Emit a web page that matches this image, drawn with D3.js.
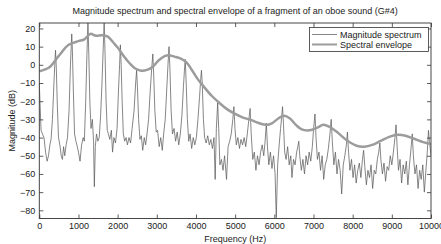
<!DOCTYPE html>
<html><head><meta charset="utf-8">
<script src="https://cdn.jsdelivr.net/npm/d3@7"></script>
<style>body{margin:0;background:#fff}svg{display:block;font-family:"Liberation Sans",Arial,sans-serif}</style>
</head><body><svg id="c" width="441" height="244"></svg>
<script>
const title = "Magnitude spectrum and spectral envelope of a fragment of an oboe sound (G#4)";
const xLabel = "Frequency (Hz)";
const yLabel = "Magnitude (dB)";
const seriesNames = ["Magnitude spectrum", "Spectral envelope"];
const xTicks = [0,1000,2000,3000,4000,5000,6000,7000,8000,9000,10000];
const yTicks = [-80,-70,-60,-50,-40,-30,-20,-10,0,10,20];

const specFreq = [0,20,45,80,120,160,200,235,270,300,335,370,395,414,435,460,490,525,560,590,620,650,685,720,760,795,815,828,845,870,900,935,970,1000,1040,1080,1120,1150,1185,1215,1242,1265,1290,1320,1355,1385,1405,1430,1460,1495,1530,1565,1600,1630,1656,1680,1705,1735,1765,1800,1840,1870,1905,1945,1985,2020,2050,2070,2090,2115,2145,2180,2215,2250,2290,2330,2370,2420,2460,2484,2505,2535,2570,2605,2640,2680,2715,2750,2790,2830,2870,2898,2920,2950,2985,3020,3060,3100,3140,3175,3215,3250,3285,3312,3335,3365,3400,3440,3480,3520,3560,3600,3640,3680,3705,3726,3750,3780,3815,3850,3890,3930,3970,4010,4050,4090,4120,4140,4160,4190,4220,4260,4300,4340,4380,4420,4460,4490,4520,4554,4580,4610,4650,4690,4730,4780,4820,4860,4900,4940,4968,4995,5030,5070,5110,5150,5190,5230,5270,5310,5350,5382,5410,5450,5490,5530,5570,5610,5650,5690,5730,5765,5796,5825,5860,5900,5940,5980,6020,6050,6085,6120,6160,6190,6210,6235,6265,6300,6340,6380,6420,6450,6490,6530,6570,6600,6624,6650,6690,6730,6770,6810,6850,6890,6930,6970,7000,7038,7065,7100,7140,7180,7220,7260,7300,7340,7380,7420,7452,7480,7520,7560,7600,7640,7680,7720,7760,7800,7840,7866,7895,7930,7970,8010,8050,8090,8130,8170,8210,8250,8280,8310,8350,8390,8430,8470,8510,8550,8590,8630,8665,8694,8720,8760,8800,8840,8880,8920,8960,9000,9040,9080,9108,9135,9170,9210,9250,9290,9330,9370,9410,9450,9490,9522,9550,9590,9630,9670,9710,9750,9790,9830,9870,9905,9936,9960,10000];
const specMag = [-10,-22,-36,-38,-40,-48,-53,-50,-44,-41,-30,-12,0,8,-2,-22,-40,-44,-50,-52,-45,-50,-44,-40,-25,0,10,17,8,-15,-38,-42,-45,-48,-53,-44,-40,-42,-20,5,23.5,5,-20,-35,-30,-42,-67,-45,-38,-42,-40,-28,-10,8,24,5,-20,-36,-38,-41,-36,-48,-40,-43,-35,-15,0,11,0,-20,-38,-42,-40,-44,-40,-43,-35,-25,-10,-3,-12,-30,-41,-39,-47,-40,-44,-38,-30,-15,-2,6,-5,-25,-37,-36,-45,-40,-47,-38,-30,-15,0,10,-2,-25,-38,-35,-42,-37,-44,-38,-28,-12,-3,3,-10,-30,-42,-38,-46,-40,-44,-40,-30,-18,-8,-3,-10,-30,-40,-43,-39,-44,-41,-46,-40,-63,-35,-21,-35,-55,-52,-58,-50,-63,-45,-42,-38,-30,-23,-35,-44,-40,-46,-41,-44,-40,-45,-38,-30,-24,-38,-52,-48,-58,-50,-55,-48,-44,-50,-42,-32,-45,-55,-48,-57,-50,-60,-84,-55,-45,-35,-28,-23,-33,-48,-52,-45,-55,-50,-62,-52,-55,-48,-45,-42,-50,-58,-52,-60,-50,-55,-48,-53,-45,-36,-27,-40,-52,-48,-58,-50,-63,-55,-52,-46,-38,-30,-42,-55,-48,-60,-52,-58,-71,-55,-50,-44,-37,-48,-58,-52,-62,-55,-65,-58,-54,-62,-52,-47,-56,-66,-58,-62,-55,-68,-58,-60,-52,-48,-43,-52,-60,-54,-64,-56,-58,-50,-55,-48,-40,-33,-45,-58,-52,-65,-55,-60,-53,-66,-55,-46,-38,-50,-60,-55,-68,-58,-63,-55,-70,-58,-48,-36,-42,-50];

const envFreq = [0,250,500,750,1000,1150,1300,1450,1600,1750,1900,2000,2150,2300,2450,2600,2750,2900,3050,3200,3300,3450,3600,3750,3900,4050,4200,4400,4600,4800,5000,5200,5400,5600,5800,5950,6100,6250,6400,6550,6700,6900,7100,7250,7400,7600,7850,8100,8300,8500,8700,8950,9150,9350,9550,9800,10000];
const envMag = [-3.5,-1.5,5,11,13,14,17,16,16.3,15.5,12,9.5,5,1,-2,-3.2,-2.8,-1,2.5,4.8,5.3,4.5,3.5,1.5,-3,-8,-12,-17,-21,-24.5,-27,-29,-30.3,-32,-33,-32,-29.5,-28,-29.5,-33,-35.5,-36,-34.5,-33,-34,-37,-41.5,-44.5,-45,-44,-42,-39.5,-38.5,-39,-40.5,-42.5,-43.5];

const W = 441, H = 244;
const m = {l: 39.3, r: 431, t: 23, b: 218.5};
const svg = d3.select("#c");
const x = d3.scaleLinear().domain([0, 10000]).range([m.l, m.r]);
const y = d3.scaleLinear().domain([-84.5, 23]).range([m.b, m.t]);

svg.append("defs").append("clipPath").attr("id","clip")
  .append("rect").attr("x", m.l).attr("y", m.t).attr("width", m.r - m.l).attr("height", m.b - m.t);

const spec = specFreq.map((f,i) => [f, specMag[i]]);
const env = envFreq.map((f,i) => [f, envMag[i]]);
const g = svg.append("g").attr("clip-path","url(#clip)");
g.append("path").datum(spec).attr("fill","none").attr("stroke","#5e5e5e").attr("stroke-width",0.75)
  .attr("stroke-linejoin","round")
  .attr("d", d3.line().x(d=>x(d[0])).y(d=>y(d[1])));
g.append("path").datum(env).attr("fill","none").attr("stroke","#9c9c9c").attr("stroke-width",2.5)
  .attr("d", d3.line().curve(d3.curveCatmullRom).x(d=>x(d[0])).y(d=>y(d[1])));

const tl = 4;
const fmt = d3.format("d");
function style(sel){
  sel.select(".domain").remove();
  sel.selectAll(".tick line").attr("stroke","#333").attr("stroke-width",0.8);
  sel.selectAll(".tick text").attr("fill","#222").style("font-size","9px").style("font-family","'Liberation Sans',Arial,sans-serif");
}
svg.append("g").attr("transform",`translate(0,${m.b})`)
  .call(d3.axisBottom(x).tickValues(xTicks).tickFormat(fmt).tickSizeInner(-tl).tickSizeOuter(0).tickPadding(4.5))
  .call(style);
svg.append("g").attr("transform",`translate(0,${m.t})`)
  .call(d3.axisTop(x).tickValues(xTicks).tickFormat("").tickSizeInner(-tl).tickSizeOuter(0))
  .call(style);
svg.append("g").attr("transform",`translate(${m.l},0)`)
  .call(d3.axisLeft(y).tickValues(yTicks).tickFormat(fmt).tickSizeInner(-tl).tickSizeOuter(0).tickPadding(4))
  .call(style);
svg.append("g").attr("transform",`translate(${m.r},0)`)
  .call(d3.axisRight(y).tickValues(yTicks).tickFormat("").tickSizeInner(-tl).tickSizeOuter(0))
  .call(style);

svg.append("rect").attr("x",m.l).attr("y",m.t).attr("width",m.r-m.l).attr("height",m.b-m.t)
  .attr("fill","none").attr("stroke","#333").attr("stroke-width",0.9);

svg.append("text").attr("x",(m.l+m.r)/2).attr("y",14).attr("text-anchor","middle")
  .style("font-size","9px").attr("fill","#222").text(title);
svg.append("text").attr("x",(m.l+m.r)/2).attr("y",241.5).attr("text-anchor","middle")
  .style("font-size","9px").attr("fill","#222").text(xLabel);
svg.append("text").attr("transform",`translate(15,${(m.t+m.b)/2}) rotate(-90)`).attr("text-anchor","middle")
  .style("font-size","9px").attr("fill","#222").text(yLabel);

const lg = svg.append("g");
lg.append("rect").attr("x",309.5).attr("y",27.5).attr("width",119).attr("height",24)
  .attr("fill","#fff").attr("stroke","#333").attr("stroke-width",0.8);
const ls = [{w:0.75,c:"#5e5e5e"},{w:2,c:"#9c9c9c"}];
seriesNames.forEach((n,i)=>{
  const yy = 34.5 + i*10;
  lg.append("line").attr("x1",312).attr("x2",337).attr("y1",yy).attr("y2",yy)
    .attr("stroke",ls[i].c).attr("stroke-width",ls[i].w);
  lg.append("text").attr("x",340).attr("y",yy+3).style("font-size","9px").attr("fill","#222").text(n);
});
</script></body></html>
